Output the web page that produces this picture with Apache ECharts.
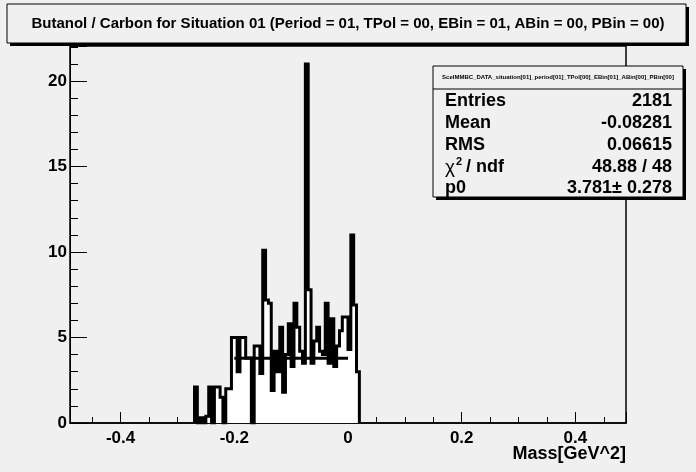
<!DOCTYPE html>
<html><head><meta charset="utf-8">
<script src="https://cdn.jsdelivr.net/npm/echarts@6/dist/echarts.min.js"></script>
<style>html,body{margin:0;padding:0;background:#f0f0f0;}#c{width:696px;height:472px;}</style>
</head><body><div id="c"></div>
<script>
// ---- data ----
const binLow = -0.27;       // left edge of first filled bin
const binWidth = 0.005;     // bin width
const counts = [2.1, 0, 0.3, 0, 0.4, 2.1, 0, 2.1, 2.1, 1.5,
                0, 2.0, 2.0, 5.0, 5.0, 3.0, 5.0, 5.0, 3.8, 3.8,
                0, 4.5, 4.5, 2.9, 10.1, 7.2, 7.0, 1.9, 4.2, 3.0,
                5.6, 1.8, 4.0, 5.8, 3.3, 7.0, 5.6, 4.2, 3.5, 21.0,
                7.8, 3.5, 4.8, 5.6, 4.2, 4.0, 7.0, 3.5, 6.1, 3.3,
                4.5, 5.4, 6.2, 6.2, 4.3, 11.0, 6.9, 3.0];
const fitRange = [-0.2, 0.0];
const fitP0 = 3.781;
const xRange = [-0.489, 0.489];
const yRange = [0, 22.05];
const yTickStep = 5;
const titleText = "Butanol / Carbon for Situation 01 (Period = 01, TPol = 00, EBin = 01, ABin = 00, PBin = 00)";
const statsHeader = "ScelMMBC_DATA_situation[01]_period[01]_TPol[00]_EBin[01]_ABin[00]_PBin[00]";
const statsLabels = ["Entries", "Mean", "RMS", "", "p0"];
const statsValues = ["2181", "-0.08281", "0.06615", "48.88 / 48", "3.781\u00b1 0.278"];
const xAxisTitle = "Mass[GeV^2]";

// ---- build ----
const FONT = "'Liberation Sans', Arial, Helvetica, sans-serif";
const histPts = [[binLow, 0]];
counts.forEach((c, i) => histPts.push([+(binLow + i * binWidth).toFixed(4), c]));
histPts.push([+(binLow + counts.length * binWidth).toFixed(4), 0]);

const rowY = [100.7, 122.7, 145, 166.7, 188];
const statsGraphics = [];
statsLabels.forEach((l, i) => {
  if (l) statsGraphics.push({type:'text', x:445, y:rowY[i], style:{text:l, font:'bold 18px ' + FONT, fill:'#000', verticalAlign:'middle', textVerticalAlign:'middle'}});
  statsGraphics.push({type:'text', x:672, y:rowY[i], style:{text:statsValues[i], font:'bold 18px ' + FONT, fill:'#000', align:'right', textAlign:'right', verticalAlign:'middle', textVerticalAlign:'middle'}});
});
// chi^2 / ndf label
statsGraphics.push({type:'text', x:445, y:rowY[3] + 1, style:{text:'\u03c7', font:'19px ' + FONT, fill:'#000', verticalAlign:'middle', textVerticalAlign:'middle'}});
statsGraphics.push({type:'text', x:456, y:rowY[3] - 5, style:{text:'2', font:'bold 11px ' + FONT, fill:'#000', verticalAlign:'middle', textVerticalAlign:'middle'}});
statsGraphics.push({type:'text', x:466, y:rowY[3], style:{text:'/ ndf', font:'bold 18px ' + FONT, fill:'#000', verticalAlign:'middle', textVerticalAlign:'middle'}});

const chart = echarts.init(document.getElementById('c'), null, {renderer:'canvas'});
chart.setOption({
  animation: false,
  backgroundColor: '#f0f0f0',
  grid: {left:70, right:70, top:46, bottom:49, containLabel:false, outerBoundsMode:'none',
         show:true, borderColor:'#000', borderWidth:1.5, backgroundColor:'transparent'},
  xAxis: {
    type:'value', min:xRange[0], max:xRange[1], splitNumber:5,
    name: xAxisTitle, nameLocation:'end', nameGap:0, nameMoveOverlap:false,
    nameTextStyle:{fontFamily:FONT, fontWeight:'bold', fontSize:18, color:'#000', align:'right', verticalAlign:'top', padding:[22,0,0,0]},
    axisLine:{onZero:false, lineStyle:{color:'#000', width:1.5}},
    axisTick:{inside:true, length:11, lineStyle:{color:'#000', width:1}},
    minorTick:{show:true, splitNumber:4, length:6, lineStyle:{color:'#000', width:1}},
    splitLine:{show:false}, minorSplitLine:{show:false},
    axisLabel:{showMinLabel:false, showMaxLabel:false, color:'#000', fontFamily:FONT, fontWeight:'bold', fontSize:17, margin:7,
      formatter: v => String(+v.toFixed(3))}
  },
  yAxis: {
    type:'value', min:yRange[0], max:yRange[1], interval:yTickStep,
    axisLine:{show:true, onZero:false, lineStyle:{color:'#000', width:1}},
    axisTick:{inside:true, length:17, lineStyle:{color:'#000', width:1}},
    minorTick:{show:true, splitNumber:5, length:8, lineStyle:{color:'#000', width:1}},
    splitLine:{show:false},
    axisLabel:{showMaxLabel:false, color:'#000', fontFamily:FONT, fontWeight:'bold', fontSize:17, margin:3}
  },
  series: [
    {type:'line', step:'end', data:histPts, symbol:'none', showSymbol:false, silent:true, z:2,
     lineStyle:{color:'#000', width:3, join:'miter', cap:'butt'},
     areaStyle:{color:'#ffffff', opacity:1, origin:'start'}},
    {type:'line', data:[[fitRange[0], fitP0], [fitRange[1], fitP0]], symbol:'none', showSymbol:false, silent:true, z:3,
     lineStyle:{color:'#000', width:3}}
  ],
  graphic: [
    {type:'rect', shape:{x:10, y:7, width:679, height:39}, style:{fill:'#000'}, z:10},
    {type:'rect', shape:{x:7, y:4, width:679, height:39}, style:{fill:'#f0f0f0', stroke:'#000', lineWidth:1}, z:11},
    {type:'text', x:348, y:24, z:12, style:{text:titleText, font:'bold 15px ' + FONT, fill:'#000', align:'center', textAlign:'center', verticalAlign:'middle', textVerticalAlign:'middle'}},
    {type:'rect', shape:{x:436, y:69, width:250, height:131}, style:{fill:'#000'}, z:10},
    {type:'rect', shape:{x:433, y:66, width:250, height:131}, style:{fill:'#f0f0f0', stroke:'#000', lineWidth:1}, z:11},
    {type:'line', shape:{x1:433, y1:89, x2:683, y2:89}, style:{stroke:'#000', lineWidth:1}, z:12},
    {type:'text', x:558, y:77.5, z:12, style:{text:statsHeader, font:'bold 6px ' + FONT, fill:'#000', align:'center', textAlign:'center', verticalAlign:'middle', textVerticalAlign:'middle'}},
    ...statsGraphics.map(g => Object.assign(g, {z:12}))
  ]
});
</script></body></html>
